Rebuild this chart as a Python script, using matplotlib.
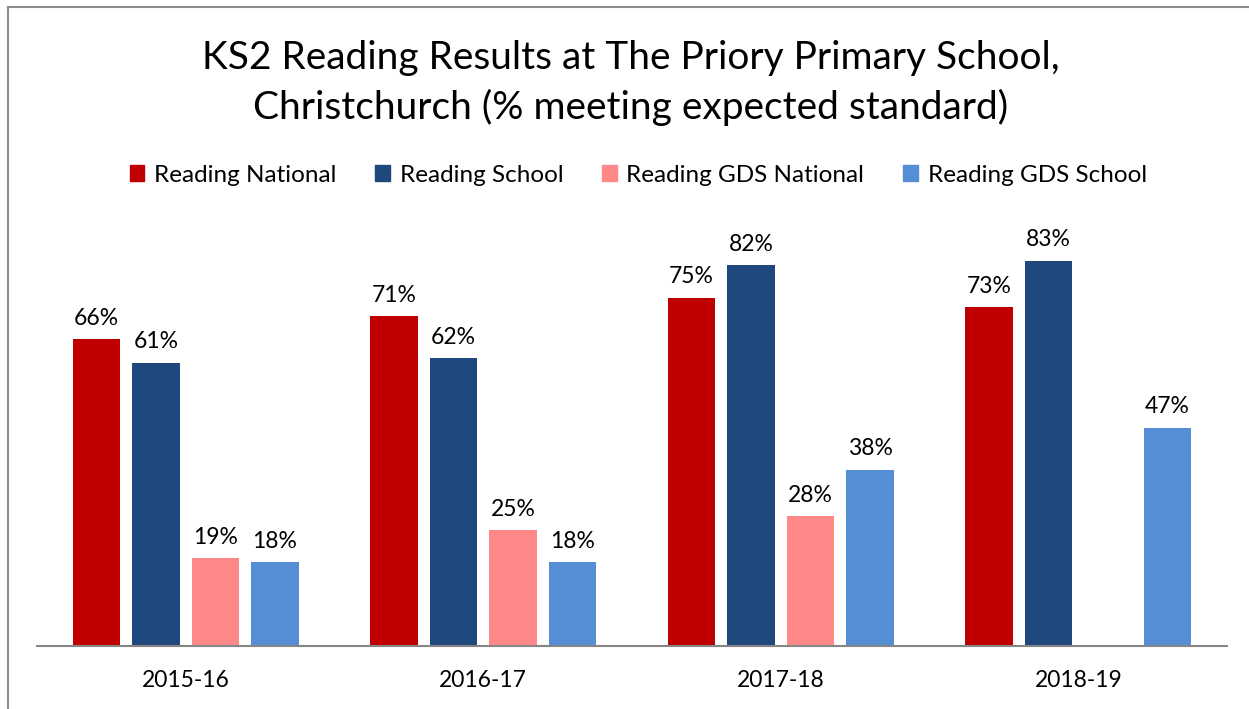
import matplotlib
matplotlib.use("Agg")
import matplotlib.pyplot as plt
import numpy as np
from matplotlib.lines import Line2D
from matplotlib.patches import Rectangle

years = ["2015-16", "2016-17", "2017-18", "2018-19"]
series_names = ["Reading National", "Reading School", "Reading GDS National", "Reading GDS School"]
reading_national = [66, 71, 75, 73]
reading_school = [61, 62, 82, 83]
gds_national = [19, 25, 28, None]
gds_school = [18, 18, 38, 47]
colors = ["#C00000", "#1F497D", "#FF8989", "#558ED5"]

plt.rcParams['font.family'] = ['Lato', 'DejaVu Sans']

fig = plt.figure(figsize=(12.49, 7.09), dpi=100)
ax = fig.add_axes([37/1249, (709-646)/709, (1227-37)/1249, (646-228)/709])

x = np.arange(len(years))
width = 0.158
step = 0.2
all_series = [reading_national, reading_school, gds_national, gds_school]
for i, (vals, c, name) in enumerate(zip(all_series, colors, series_names)):
    pos = x + (i - 1.5) * step
    for p, v in zip(pos, vals):
        if v is None:
            continue
        ax.bar(p, v, width=width, color=c)
        ax.text(p, v + 2.2, f"{v}%", ha="center", va="bottom", fontsize=16.5, color="#000000")

ax.set_xlim(-0.5, len(years) - 0.5)
ax.set_ylim(0, 90)
ax.set_xticks(x)
ax.set_xticklabels(years, fontsize=16.5)
ax.tick_params(axis="x", length=0, pad=17)
ax.set_yticks([])
for s in ["top", "right", "left"]:
    ax.spines[s].set_visible(False)
ax.spines["bottom"].set_color("#868686")
ax.spines["bottom"].set_linewidth(1.5)

fig.text(0.505, 1 - 83/709, "KS2 Reading Results at The Priory Primary School,\nChristchurch (% meeting expected standard)",
         ha="center", va="center", fontsize=28, linespacing=1.4)

handles = [Rectangle((0, 0), 1, 1, color=c) for c in colors]
fig.legend(handles, series_names, loc="center", bbox_to_anchor=(0.511, 1 - 175/709), ncol=4,
           frameon=False, fontsize=17.5, handlelength=0.6, handleheight=0.6, columnspacing=1.6, handletextpad=0.4)

# border
fig.add_artist(Line2D([8/1249, 8/1249], [0, 1 - 7/709], color="#8C8C8C", lw=1.5, transform=fig.transFigure))
fig.add_artist(Line2D([8/1249, 1], [1 - 7/709, 1 - 7/709], color="#8C8C8C", lw=1.5, transform=fig.transFigure))

fig.savefig("out.png", dpi=100)
